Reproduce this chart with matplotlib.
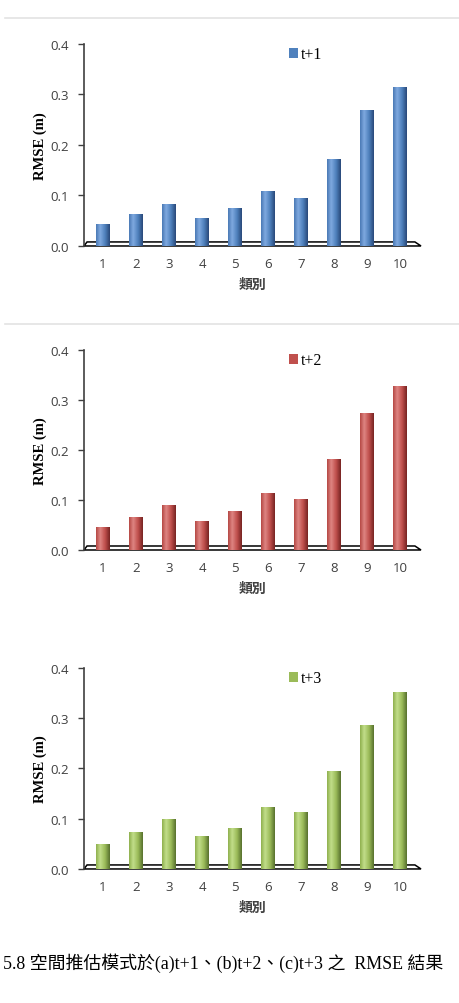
import numpy as np
import matplotlib.pyplot as plt
from matplotlib.colors import LinearSegmentedColormap
from matplotlib.patches import Patch, Polygon

categories = ["1", "2", "3", "4", "5", "6", "7", "8", "9", "10"]
rmse_t1 = [0.044, 0.064, 0.084, 0.056, 0.076, 0.108, 0.096, 0.172, 0.269, 0.314]
rmse_t2 = [0.046, 0.066, 0.089, 0.057, 0.077, 0.113, 0.102, 0.181, 0.273, 0.327]
rmse_t3 = [0.050, 0.074, 0.100, 0.066, 0.082, 0.123, 0.114, 0.194, 0.287, 0.353]
series_names = ["t+1", "t+2", "t+3"]
yticks = [0.0, 0.1, 0.2, 0.3, 0.4]
caption = "5.8 空間推估模式於(a)t+1、(b)t+2、(c)t+3 之  RMSE 結果"

# base colour + cylinder shading (left -> highlight -> base -> dark edge)
palettes = {
    "t+1": ("#4F81BD", ["#4a79b5", "#7fa9df", "#4f81bd", "#29497a"]),
    "t+2": ("#C0504D", ["#b54844", "#de8582", "#c0504d", "#772422"]),
    "t+3": ("#9BBB59", ["#8fb04e", "#c2de8a", "#9bbb59", "#57712e"]),
}

# axes boxes in figure fractions (left, bottom, width, height)
boxes = [
    (0.1826, 0.754, 0.7326, 0.2012),
    (0.1826, 0.4512, 0.7326, 0.1992),
    (0.1826, 0.1335, 0.7326, 0.2002),
]


def draw_panel(ax, values, name):
    base, shades = palettes[name]
    cmap = LinearSegmentedColormap.from_list(name, list(zip([0, 0.3, 0.65, 1.0], shades)))
    grad = np.linspace(0, 1, 64).reshape(1, -1)
    x = np.arange(1, len(values) + 1)
    w = 0.42
    bars = ax.bar(x, values, width=w, color=base, zorder=3)
    for b, xi, v in zip(bars, x, values):
        im = ax.imshow(grad, cmap=cmap, aspect="auto", extent=[xi - w / 2, xi + w / 2, 0, v],
                       zorder=4, interpolation="bilinear")
        im.set_clip_path(b)

    ax.set_xlim(0.424, 10.64)
    ax.set_ylim(0, 0.4)
    ax.set_yticks(yticks)
    ax.set_yticklabels([f"{t:.1f}" for t in yticks], fontsize=9.5, color="#404040", family="Open Sans")
    ax.set_xticks(x)
    ax.set_xticklabels(categories, fontsize=9.5, color="#404040", family="Open Sans")
    ax.tick_params(axis="x", length=0, pad=8)
    ax.tick_params(axis="y", length=4, width=1, color="#404040", direction="out", pad=7)
    for s in ["top", "right", "bottom"]:
        ax.spines[s].set_visible(False)
    ax.spines["left"].set_color("#404040")
    ax.spines["left"].set_linewidth(1.2)

    # 3D floor
    floor = Polygon([(0, 0), (1, 0), (0.982, 0.02), (0.009, 0.02)], closed=True,
                    transform=ax.transAxes, facecolor="white", edgecolor="black",
                    linewidth=1.1, zorder=2, clip_on=False)
    ax.add_patch(floor)

    ax.set_ylabel("RMSE (m)", family="Liberation Serif", fontweight="bold", fontsize=10.5, labelpad=2)
    ax.set_xlabel("類別", family="Noto Sans CJK TC", fontweight="bold", fontsize=10,
                  color="#404040", labelpad=5)

    ax.legend(handles=[Patch(facecolor=base, label=name)], loc="upper left",
              bbox_to_anchor=(0.565, 1.06), frameon=False, handlelength=0.6, handleheight=0.6,
              handletextpad=0.15, prop={"family": "Liberation Serif", "size": 11.5})


fig = plt.figure(figsize=(4.6, 10.04), dpi=100)
for box, vals, name in zip(boxes, [rmse_t1, rmse_t2, rmse_t3], series_names):
    ax = fig.add_axes(box)
    draw_panel(ax, vals, name)

# separator lines from the page
for yy in [1 - 19 / 1004, 1 - 325 / 1004]:
    fig.add_artist(plt.Line2D([0.01, 1.0], [yy, yy], color="#e3e3e3", linewidth=1.2))

fig.text(0.006, 1 - 963 / 1004, caption, ha="left", va="center", fontsize=12.9,
         family=["Liberation Serif", "Noto Sans CJK TC"])

fig.savefig("out.png", dpi=100)
